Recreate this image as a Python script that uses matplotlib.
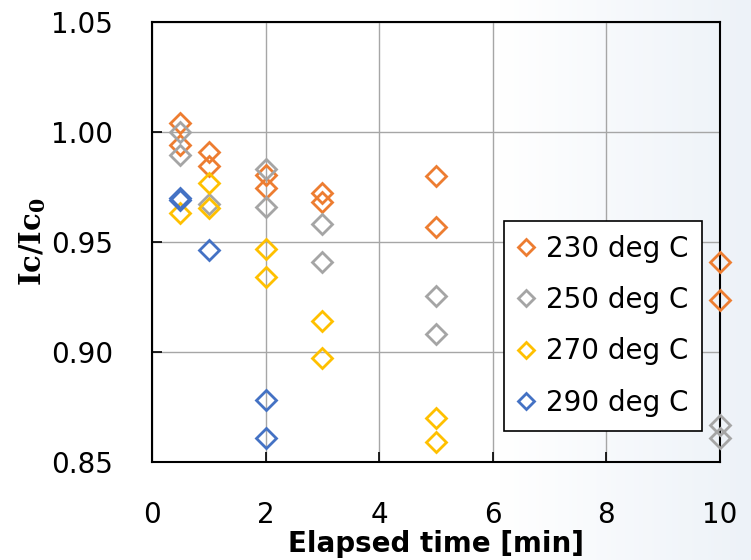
import numpy as np
import matplotlib
matplotlib.use('Agg')
import matplotlib.pyplot as plt
from matplotlib.colors import LinearSegmentedColormap

# data (elapsed time [min], Ic/Ic0)
x_230 = [0.5, 0.5, 1, 1, 2, 2, 3, 3, 5, 5, 10, 10]
y_230 = [1.004, 0.994, 0.991, 0.9845, 0.9805, 0.9745, 0.9725, 0.968, 0.980, 0.957, 0.941, 0.9235]

x_250 = [0.5, 0.5, 1, 2, 2, 3, 3, 5, 5, 10, 10]
y_250 = [1.000, 0.9895, 0.9675, 0.983, 0.966, 0.958, 0.941, 0.9255, 0.908, 0.867, 0.861]

x_270 = [0.5, 1, 1, 2, 2, 3, 3, 5, 5]
y_270 = [0.963, 0.977, 0.9655, 0.947, 0.934, 0.914, 0.8975, 0.870, 0.859]

x_290 = [0.5, 0.5, 1, 2, 2]
y_290 = [0.970, 0.969, 0.9465, 0.878, 0.861]

series = [
    ('230 deg C', x_230, y_230, '#ED7D31'),
    ('250 deg C', x_250, y_250, '#A5A5A5'),
    ('270 deg C', x_270, y_270, '#FFC000'),
    ('290 deg C', x_290, y_290, '#4472C4'),
]

plt.rcParams['font.family'] = ['DejaVu Sans']
plt.rcParams['mathtext.fontset'] = 'dejavuserif'

fig = plt.figure(figsize=(7.51, 5.6), dpi=100)

# faint white -> light blue background
bg = fig.add_axes([0, 0, 1, 1], zorder=-10)
cmap = LinearSegmentedColormap.from_list('bg', ['#ffffff', '#ffffff', '#ffffff', '#edf2f8'])
bg.imshow(np.linspace(0, 1, 256).reshape(1, -1), aspect='auto', cmap=cmap,
          extent=[0, 1, 0, 1])
bg.axis('off')

ax = fig.add_axes([0.2024, 0.175, 0.7563, 0.7857])
ax.set_facecolor('none')

for label, xs, ys, col in series:
    ax.plot(xs, ys, linestyle='none', marker='D', markersize=10,
            markerfacecolor='none', markeredgecolor=col, markeredgewidth=2,
            label=label, clip_on=False, zorder=3)

ax.set_xlim(0, 10)
ax.set_ylim(0.85, 1.05)
ax.set_xticks([0, 2, 4, 6, 8, 10])
ax.set_yticks([0.85, 0.90, 0.95, 1.00, 1.05])
ax.set_yticklabels(['0.85', '0.90', '0.95', '1.00', '1.05'])
ax.grid(True, color='#a6a6a6', linewidth=1)
ax.set_axisbelow(True)

for sp in ax.spines.values():
    sp.set_color('black')
    sp.set_linewidth(1.5)

ax.tick_params(direction='in', length=7, width=1.2, labelsize=20, pad=28,
               colors='black')

ax.set_xlabel('Elapsed time [min]', fontsize=20, fontweight='bold', labelpad=1)
ax.set_ylabel(r'$\mathbf{Ic/Ic_0}$', fontsize=21, labelpad=2)

leg = ax.legend(loc='upper left', bbox_to_anchor=(0.62, 0.548), borderaxespad=0,
                fontsize=20, frameon=True, fancybox=False, edgecolor='black',
                framealpha=1, markerscale=0.8, handlelength=0.6,
                handletextpad=0.4, labelspacing=0.84, borderpad=0.5)
leg.get_frame().set_linewidth(1.2)

fig.savefig('out.png', dpi=100)
